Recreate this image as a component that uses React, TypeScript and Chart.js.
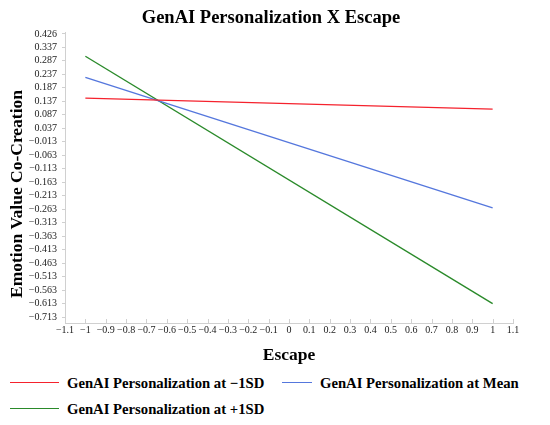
import React, { useEffect, useRef } from "react";
import { Chart, registerables } from "chart.js";

Chart.register(...registerables);

const TITLE = "GenAI Personalization X Escape";
const X_TITLE = "Escape";
const Y_TITLE = "Emotion Value Co-Creation";

const xValues = [-1, 1];
const seriesNames = [
  "GenAI Personalization at \u22121SD",
  "GenAI Personalization at Mean",
  "GenAI Personalization at +1SD",
];
const lowValues = [0.149, 0.108];
const meanValues = [0.226, -0.258];
const highValues = [0.304, -0.613];
const seriesColors = ["#f5222d", "#5577dd", "#2a8a2a"];

const xTickValues = [-1.1, -1, -0.9, -0.8, -0.7, -0.6, -0.5, -0.4, -0.3, -0.2, -0.1, 0, 0.1, 0.2, 0.3, 0.4, 0.5, 0.6, 0.7, 0.8, 0.9, 1, 1.1];
const xTickLabels = ["\u22121.1", "\u22121", "\u22120.9", "\u22120.8", "\u22120.7", "\u22120.6", "\u22120.5", "\u22120.4", "\u22120.3", "\u22120.2", "\u22120.1", "0", "0.1", "0.2", "0.3", "0.4", "0.5", "0.6", "0.7", "0.8", "0.9", "1", "1.1"];

const yTickValues = [-0.663, -0.613, -0.563, -0.513, -0.463, -0.413, -0.363, -0.313, -0.263, -0.213, -0.163, -0.113, -0.063, -0.013, 0.037, 0.087, 0.137, 0.187, 0.237, 0.287, 0.337, 0.387];
const yTickLabels = ["\u22120.713", "\u22120.613", "\u22120.563", "\u22120.513", "\u22120.463", "\u22120.413", "\u22120.363", "\u22120.313", "\u22120.263", "\u22120.213", "\u22120.163", "\u22120.113", "\u22120.063", "\u22120.013", "0.037", "0.087", "0.137", "0.187", "0.237", "0.287", "0.337", "0.426"];

const FONT = "'Liberation Serif', 'Times New Roman', serif";
const AXIS_COLOR = "#d0d0d0";

const innerTicks = {
  id: "innerTicks",
  afterDraw(chart: any) {
    const s = chart.scales.x;
    const ctx = chart.ctx;
    const y = chart.chartArea.bottom;
    ctx.save();
    ctx.strokeStyle = AXIS_COLOR;
    ctx.lineWidth = 1;
    s.ticks.forEach((t: any) => {
      const px = Math.round(s.getPixelForValue(t.value)) + 0.5;
      ctx.beginPath();
      ctx.moveTo(px, y);
      ctx.lineTo(px, y - 4);
      ctx.stroke();
    });
    ctx.restore();
  },
};

const titlesPlugin = {
  id: "titles",
  afterDraw(chart: any) {
    const ctx = chart.ctx;
    ctx.save();
    ctx.fillStyle = "#000";
    ctx.textAlign = "center";
    ctx.textBaseline = "middle";
    ctx.font = `bold 18.5px ${FONT}`;
    ctx.fillText(TITLE, 271, 18.7);
    ctx.translate(17.5, 194);
    ctx.rotate(-Math.PI / 2);
    ctx.font = `bold 17.5px ${FONT}`;
    ctx.fillText(Y_TITLE, 0, 0);
    ctx.restore();
  },
};

export default function App() {
  const ref = useRef<HTMLCanvasElement | null>(null);

  useEffect(() => {
    if (!ref.current) return;
    const series = [lowValues, meanValues, highValues];
    const chart = new Chart(ref.current, {
      type: "line",
      data: {
        datasets: series.map((vals, i) => ({
          label: seriesNames[i],
          data: xValues.map((x, j) => ({ x, y: vals[j] })),
          borderColor: seriesColors[i],
          backgroundColor: seriesColors[i],
          borderWidth: 1.4,
          pointRadius: 0,
          fill: false,
        })),
      },
      options: {
        animation: false,
        responsive: false,
        devicePixelRatio: 1,
        layout: { padding: { left: 0, right: 37, top: 32, bottom: 0 } },
        plugins: {
          legend: { display: false },
          tooltip: { enabled: false },
          title: { display: false },
        },
        scales: {
          x: {
            type: "linear",
            min: -1.1,
            max: 1.1,
            afterBuildTicks: (s: any) => {
              s.ticks = xTickValues.map((v) => ({ value: v }));
            },
            afterFit: (s: any) => {
              s.height = 47;
            },
            grid: { display: false, drawTicks: false },
            border: { display: true, color: AXIS_COLOR, width: 1 },
            ticks: {
              autoSkip: false,
              maxRotation: 0,
              padding: 1,
              color: "#222",
              font: { family: FONT, size: 10 },
              callback: (_v: any, i: number) => xTickLabels[i],
            },
            title: {
              display: true,
              text: X_TITLE,
              color: "#000",
              font: { family: FONT, size: 17.5, weight: "bold" },
              padding: { top: 0, bottom: 4 },
            },
          },
          y: {
            type: "linear",
            min: -0.685,
            max: 0.394,
            afterBuildTicks: (s: any) => {
              s.ticks = yTickValues.map((v) => ({ value: v }));
            },
            afterFit: (s: any) => {
              s.width = 65;
            },
            grid: { display: true, drawOnChartArea: false, drawTicks: true, tickLength: 3, color: AXIS_COLOR },
            border: { display: true, color: AXIS_COLOR, width: 1 },
            ticks: {
              autoSkip: false,
              padding: 5,
              color: "#222",
              font: { family: FONT, size: 10 },
              callback: (_v: any, i: number) => yTickLabels[i],
            },
            title: { display: false },
          },
        },
      },
      plugins: [innerTicks, titlesPlugin],
    } as any);
    return () => chart.destroy();
  }, []);

  const textStyle: React.CSSProperties = {
    position: "absolute",
    fontFamily: FONT,
    fontWeight: "bold",
    fontSize: 14.7,
    lineHeight: "20px",
    color: "#000",
    whiteSpace: "nowrap",
  };
  const lineStyle = (color: string, left: number, top: number, width: number): React.CSSProperties => ({
    position: "absolute",
    left,
    top,
    width,
    height: 0,
    borderTop: `1.5px solid ${color}`,
  });

  return (
    <div style={{ position: "absolute", left: 0, top: 0, width: 550, height: 425, background: "#fff", overflow: "hidden" }}>
      <canvas ref={ref} width={550} height={370} style={{ position: "absolute", left: 0, top: 0 }} />
      <div style={lineStyle(seriesColors[0], 10, 382, 49)} />
      <div style={{ ...textStyle, left: 67, top: 373 }}>{seriesNames[0]}</div>
      <div style={lineStyle(seriesColors[1], 282, 382, 30)} />
      <div style={{ ...textStyle, left: 320, top: 373 }}>{seriesNames[1]}</div>
      <div style={lineStyle(seriesColors[2], 10, 408, 49)} />
      <div style={{ ...textStyle, left: 67, top: 399 }}>{seriesNames[2]}</div>
    </div>
  );
}
